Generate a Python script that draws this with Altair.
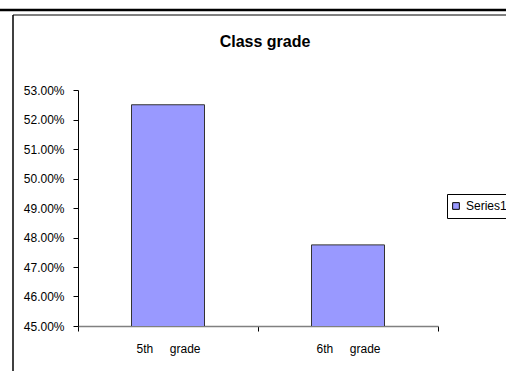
import altair as alt
import pandas as pd

categories = ["5th grade", "6th grade"]
values = [0.525, 0.4775]
series = ["Series1", "Series1"]
y_ticks = [0.45, 0.46, 0.47, 0.48, 0.49, 0.50, 0.51, 0.52, 0.53]
title_text = ["Class grade"]

df = pd.DataFrame({"grade": categories, "value": values, "series": series})
deco = pd.DataFrame({"d": [0]})
tdf = pd.DataFrame({"t": title_text})

FONT = "Liberation Sans"

bars = alt.Chart(df).mark_bar(size=73, stroke="#333333", strokeWidth=1, clip=True).encode(
    x=alt.X(
        "grade:N",
        sort=categories,
        scale=alt.Scale(paddingInner=0, paddingOuter=0),
        axis=alt.Axis(
            title=None,
            labelAngle=0,
            labelFontSize=12,
            labelColor="black",
            labelFont=FONT,
            labelPadding=12,
            tickBand="extent",
            tickSize=5,
            tickColor="black",
            domainColor="#808080",
            domainWidth=1.5,
            grid=False,
            labelExpr="replace(datum.label, ' ', '\u00a0\u00a0\u00a0\u00a0\u00a0')",
        ),
    ),
    y=alt.Y(
        "value:Q",
        scale=alt.Scale(domain=[0.45, 0.53], nice=False, zero=False),
        axis=alt.Axis(
            title=None,
            values=y_ticks,
            format=".2%",
            labelFontSize=12,
            labelColor="black",
            labelFont=FONT,
            labelPadding=9,
            tickSize=5,
            tickColor="black",
            domainColor="black",
            grid=False,
        ),
    ),
    color=alt.Color(
        "series:N",
        scale=alt.Scale(range=["#9999FF"]),
        legend=alt.Legend(
            title=None,
            orient="none",
            legendX=369,
            legendY=104,
            strokeColor="black",
            fillColor="white",
            padding=6,
            symbolType="square",
            symbolSize=45,
            symbolOffset=-3,
            symbolStrokeColor="black",
            symbolStrokeWidth=1,
            labelFontSize=12,
            labelFont=FONT,
            labelColor="black",
            labelOffset=4,
        ),
    ),
)

title = alt.Chart(tdf).mark_text(
    fontSize=16, fontWeight="bold", font=FONT, color="black", baseline="middle"
).encode(text="t:N", x=alt.value(187), y=alt.value(-48))

top_line = alt.Chart(deco).mark_rule(color="black", strokeWidth=2.5).encode(
    x=alt.value(-78), x2=alt.value(428), y=alt.value(-80)
)
box_top = alt.Chart(deco).mark_rule(color="black", strokeWidth=1).encode(
    x=alt.value(-65), x2=alt.value(428), y=alt.value(-75)
)
box_left = alt.Chart(deco).mark_rule(color="black", strokeWidth=1.5).encode(
    x=alt.value(-65), y=alt.value(-75), y2=alt.value(281)
)

chart = alt.layer(top_line, box_top, box_left, title, bars).properties(
    width=360,
    height=236,
    autosize=alt.AutoSizeParams(type="none"),
    padding={"left": 78, "top": 90, "right": 68, "bottom": 45},
).configure(font=FONT).configure_view(strokeWidth=0, stroke="transparent")

chart.save("out.html", embed_options={"renderer": "svg", "actions": False})
